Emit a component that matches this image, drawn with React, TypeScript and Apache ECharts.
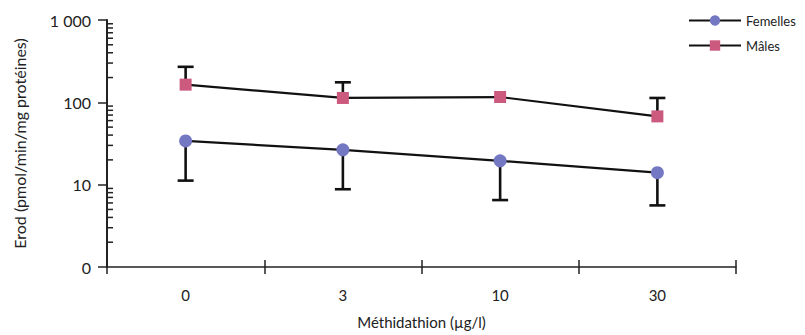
import React, { useEffect, useRef } from "react";
import * as echarts from "echarts";

// Methidathion concentrations (µg/l)
const categories = ["0", "3", "10", "30"];

// EROD activity, pmol/min/mg protein
const femellesValues = [34, 26.5, 19.5, 14];
const femellesLower = [11.2, 8.8, 6.5, 5.6];

const malesValues = [164, 113, 116, 67.5];
const malesUpper = [270, 175, null, 113];

// log-axis minor ticks (2..9 in each decade)
const minorTickValues = [
  2, 3, 4, 5, 6, 7, 8, 9,
  20, 30, 40, 50, 60, 70, 80, 90,
  200, 300, 400, 500, 600, 700, 800, 900,
];

const FONT = "Lato";
const TEXT = "#222";
const FEM_COLOR = "#7478c2";
const MAL_COLOR = "#cc5a7f";

function errorBarSeries(name: string, values: number[], ends: (number | null)[]) {
  const data = values
    .map((v, i) => (ends[i] == null ? null : [i, v, ends[i]]))
    .filter((d) => d !== null);
  return {
    type: "custom",
    name: name + "-err",
    z: 1,
    silent: true,
    data,
    encode: { x: 0, y: [1, 2] },
    renderItem: (_params: any, api: any) => {
      const x = api.value(0);
      const p0 = api.coord([x, api.value(1)]);
      const p1 = api.coord([x, api.value(2)]);
      const half = 8;
      const style = { stroke: "#111", lineWidth: 2.6 };
      return {
        type: "group",
        children: [
          { type: "line", shape: { x1: p0[0], y1: p0[1], x2: p1[0], y2: p1[1] }, style },
          { type: "line", shape: { x1: p1[0] - half, y1: p1[1], x2: p1[0] + half, y2: p1[1] }, style },
        ],
      };
    },
  };
}

export default function App() {
  const ref = useRef<HTMLDivElement>(null);

  useEffect(() => {
    if (!ref.current) return;
    document.body.style.margin = "0";
    const chart = echarts.init(ref.current, undefined, { renderer: "svg" });

    chart.setOption({
      animation: false,
      backgroundColor: "#fff",
      textStyle: { fontFamily: FONT, color: TEXT },
      grid: { left: 107, right: 69, top: 20, bottom: 68, containLabel: false },
      legend: {
        orient: "vertical",
        left: 683,
        top: 9,
        itemWidth: 52,
        itemHeight: 13,
        itemGap: 12,
        textStyle: { fontFamily: FONT, fontSize: 13, color: TEXT },
        data: ["Femelles", "Mâles"],
      },
      xAxis: [
        {
          type: "category",
          data: categories,
          position: "bottom",
          boundaryGap: true,
          axisLine: { lineStyle: { color: "#222", width: 1.5 } },
          axisTick: { show: true, length: 7, lineStyle: { color: "#222", width: 1.5 } },
          axisLabel: { fontFamily: FONT, fontSize: 15, color: TEXT, margin: 20 },
          name: "Méthidathion (µg/l)",
          nameLocation: "middle",
          nameGap: 47,
          nameTextStyle: { fontFamily: FONT, fontSize: 15, color: TEXT },
          splitLine: { show: false },
        },
        {
          type: "category",
          data: categories,
          position: "bottom",
          boundaryGap: true,
          axisLine: { show: false },
          axisTick: { show: true, inside: true, length: 7, lineStyle: { color: "#222", width: 1.5 } },
          axisLabel: { show: false },
          splitLine: { show: false },
        },
      ],
      yAxis: {
        type: "log",
        logBase: 10,
        min: 1,
        max: 1000,
        axisLine: { show: true, lineStyle: { color: "#222", width: 2 } },
        axisTick: { show: true, length: 9, lineStyle: { color: "#222", width: 1.5 } },
        axisLabel: {
          fontFamily: FONT,
          fontSize: 16,
          color: TEXT,
          margin: 16,
          formatter: (v: number) => (v === 1 ? "0" : v === 1000 ? "1 000" : String(v)),
        },
        splitLine: { show: false },
        name: "Erod (pmol/min/mg protéines)",
        nameLocation: "middle",
        nameGap: 80,
        nameRotate: 90,
        nameTextStyle: { fontFamily: FONT, fontSize: 16, color: TEXT },
      },
      series: [
        {
          type: "custom",
          name: "minor-ticks",
          silent: true,
          z: 0,
          data: minorTickValues.map((v) => [0, v]),
          encode: { x: 0, y: 1 },
          renderItem: (params: any, api: any) => {
            const y = api.coord([0, api.value(1)])[1];
            const x0 = params.coordSys.x;
            return {
              type: "line",
              shape: { x1: x0, y1: y, x2: x0 + 6, y2: y },
              style: { stroke: "#222", lineWidth: 1.5 },
            };
          },
        },
        errorBarSeries("Femelles", femellesValues, femellesLower),
        errorBarSeries("Mâles", malesValues, malesUpper),
        {
          type: "line",
          name: "Femelles",
          data: femellesValues,
          z: 3,
          symbol: "circle",
          symbolSize: 13,
          itemStyle: { color: FEM_COLOR },
          lineStyle: { color: "#111", width: 2.2 },
        },
        {
          type: "line",
          name: "Mâles",
          data: malesValues,
          z: 3,
          symbol: "rect",
          symbolSize: 12,
          itemStyle: { color: MAL_COLOR },
          lineStyle: { color: "#111", width: 2.2 },
        },
      ],
    });

    return () => chart.dispose();
  }, []);

  return <div ref={ref} style={{ width: 805, height: 335 }} />;
}
